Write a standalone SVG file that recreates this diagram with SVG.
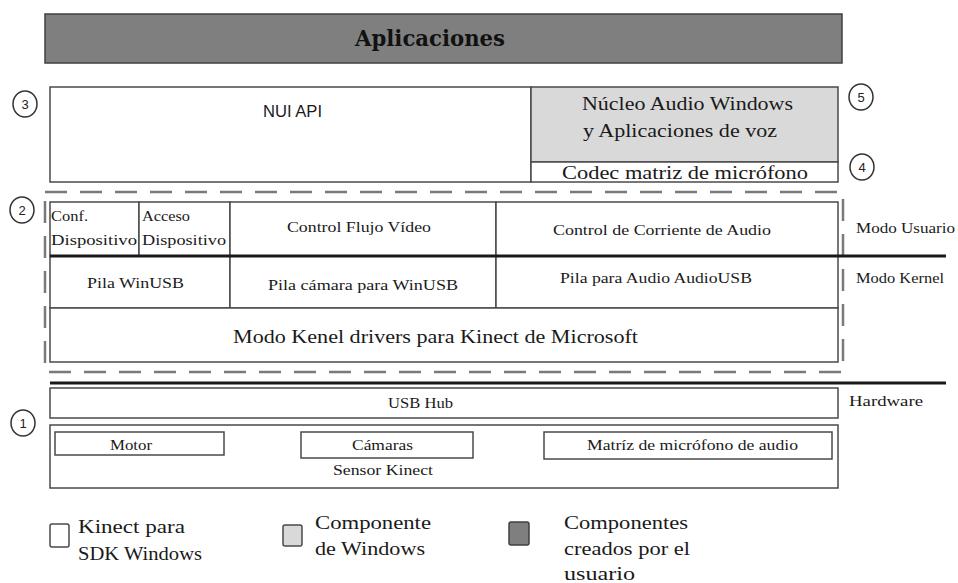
<svg xmlns="http://www.w3.org/2000/svg" width="958" height="583" viewBox="0 0 958 583">
<style>
.box{fill:#ffffff;stroke:#4a4a4a;stroke-width:1.5}
.gray{fill:#d9d9d9;stroke:#4a4a4a;stroke-width:1.5}
.dark{fill:#7f7f7f;stroke:#404040;stroke-width:1.5}
.thick{stroke:#1a1a1a;stroke-width:3;fill:none}
.dash{fill:none;stroke:#7a7a7a;stroke-width:2.5;stroke-dasharray:22 13}
.circ{fill:#fff;stroke:#333;stroke-width:1.5}
</style>

<g id="aplicaciones">
<rect class="dark" x="45" y="14" width="797" height="49"/>
<text x="355" y="46" font-family="DejaVu Serif, serif" font-size="22" font-weight="bold" fill="#111" textLength="150" lengthAdjust="spacingAndGlyphs">Aplicaciones</text>
</g>

<g font-family="Liberation Serif, serif" fill="#1a1a1a">
<g id="nui-api">
<rect class="box" x="50" y="87" width="481" height="95"/>
<text x="263" y="117" font-family="Liberation Sans, Arial, sans-serif" font-size="16" textLength="59" lengthAdjust="spacingAndGlyphs">NUI API</text>
</g>

<g id="nucleo-audio">
<rect class="gray" x="531" y="87" width="307" height="75"/>
<text x="582" y="110" font-size="18" textLength="211" lengthAdjust="spacingAndGlyphs">Núcleo Audio Windows</text>
<text x="583" y="137" font-size="18" textLength="194" lengthAdjust="spacingAndGlyphs">y Aplicaciones de voz</text>
</g>

<g id="codec">
<rect class="box" x="531" y="162" width="307" height="20"/>
<text x="562" y="179" font-size="18" textLength="246" lengthAdjust="spacingAndGlyphs">Codec matriz de micrófono</text>
</g>

<g id="modo-kernel-region">
<rect class="dash" x="45" y="192" width="798" height="180"/>
</g>

<g id="conf-dispositivo">
<rect class="box" x="50" y="202" width="89" height="54"/>
<text x="51" y="221" font-size="14" textLength="37" lengthAdjust="spacingAndGlyphs">Conf.</text>
<text x="51" y="245" font-size="14" textLength="86" lengthAdjust="spacingAndGlyphs">Dispositivo</text>
</g>

<g id="acceso-dispositivo">
<rect class="box" x="139" y="202" width="91" height="54"/>
<text x="142" y="221" font-size="14" textLength="48" lengthAdjust="spacingAndGlyphs">Acceso</text>
<text x="142" y="245" font-size="14" textLength="84" lengthAdjust="spacingAndGlyphs">Dispositivo</text>
</g>

<g id="control-flujo-video">
<rect class="box" x="230" y="202" width="266" height="54"/>
<text x="287" y="232" font-size="14" textLength="144" lengthAdjust="spacingAndGlyphs">Control Flujo Vídeo</text>
</g>

<g id="control-corriente-audio">
<rect class="box" x="496" y="202" width="342" height="54"/>
<text x="553" y="235" font-size="14" textLength="218" lengthAdjust="spacingAndGlyphs">Control de Corriente de Audio</text>
</g>

<g id="pila-winusb">
<rect class="box" x="50" y="256" width="180" height="52"/>
<text x="87" y="288" font-size="14" textLength="97" lengthAdjust="spacingAndGlyphs">Pila WinUSB</text>
</g>

<g id="pila-camara">
<rect class="box" x="230" y="256" width="266" height="52"/>
<text x="268" y="290" font-size="14" textLength="190" lengthAdjust="spacingAndGlyphs">Pila cámara para WinUSB</text>
</g>

<g id="pila-audio">
<rect class="box" x="496" y="256" width="342" height="52"/>
<text x="560" y="283" font-size="14" textLength="192" lengthAdjust="spacingAndGlyphs">Pila para Audio AudioUSB</text>
</g>

<g id="kernel-drivers">
<rect class="box" x="50" y="308" width="788" height="54"/>
<text x="233" y="343" font-size="19" textLength="405" lengthAdjust="spacingAndGlyphs">Modo Kenel drivers para Kinect de Microsoft</text>
</g>

<g id="usb-hub">
<rect class="box" x="50" y="388" width="788" height="30"/>
<text x="388" y="408" font-size="14" textLength="65" lengthAdjust="spacingAndGlyphs">USB Hub</text>
</g>

<g id="sensor-kinect">
<rect class="box" x="50" y="425" width="788" height="63"/>
<text x="333" y="475" font-size="14" textLength="100" lengthAdjust="spacingAndGlyphs">Sensor Kinect</text>
</g>

<g id="motor">
<rect class="box" x="55" y="432" width="169" height="23"/>
<text x="110" y="450" font-size="14" textLength="42" lengthAdjust="spacingAndGlyphs">Motor</text>
</g>

<g id="camaras">
<rect class="box" x="301" y="432" width="172" height="26"/>
<text x="352" y="450" font-size="14" textLength="61" lengthAdjust="spacingAndGlyphs">Cámaras</text>
</g>

<g id="matriz-microfono">
<rect class="box" x="544" y="432" width="288" height="27"/>
<text x="587" y="450" font-size="14" textLength="211" lengthAdjust="spacingAndGlyphs">Matríz de micrófono de audio</text>
</g>

<g id="connectors">
<line class="thick" x1="50" y1="256" x2="946" y2="256"/>
<line class="thick" x1="50" y1="383" x2="946" y2="383"/>
</g>

<g id="mode-labels">
<text x="856" y="233" font-size="14" textLength="99" lengthAdjust="spacingAndGlyphs">Modo Usuario</text>
<text x="856" y="283" font-size="14" textLength="88" lengthAdjust="spacingAndGlyphs">Modo Kernel</text>
<text x="849" y="406" font-size="14" textLength="74" lengthAdjust="spacingAndGlyphs">Hardware</text>
</g>

<g id="markers" font-family="Liberation Sans, Arial, sans-serif" font-size="13" text-anchor="middle" fill="#222">
<ellipse class="circ" cx="25" cy="104" rx="12" ry="13"/><text x="25" y="109">3</text>
<ellipse class="circ" cx="22" cy="210" rx="12" ry="13"/><text x="22" y="215">2</text>
<ellipse class="circ" cx="23" cy="423" rx="12" ry="13"/><text x="23" y="428">1</text>
<ellipse class="circ" cx="861" cy="97" rx="12" ry="13"/><text x="861" y="102">5</text>
<ellipse class="circ" cx="862" cy="167" rx="12" ry="13"/><text x="862" y="172">4</text>
</g>

<g id="legend">
<rect class="box" x="50" y="524" width="19" height="23" rx="2"/>
<text x="78" y="533" font-size="19" textLength="107" lengthAdjust="spacingAndGlyphs">Kinect para</text>
<text x="78" y="560" font-size="19" textLength="124" lengthAdjust="spacingAndGlyphs">SDK Windows</text>
<rect class="gray" x="283" y="525" width="19" height="21" rx="2"/>
<text x="315" y="529" font-size="19" textLength="116" lengthAdjust="spacingAndGlyphs">Componente</text>
<text x="315" y="555" font-size="19" textLength="110" lengthAdjust="spacingAndGlyphs">de Windows</text>
<rect class="dark" x="509" y="522" width="20" height="23" rx="2"/>
<text x="564" y="529" font-size="19" textLength="124" lengthAdjust="spacingAndGlyphs">Componentes</text>
<text x="564" y="555" font-size="19" textLength="126" lengthAdjust="spacingAndGlyphs">creados por el</text>
<text x="564" y="580" font-size="19" textLength="71" lengthAdjust="spacingAndGlyphs">usuario</text>
</g>
</g>
</svg>
